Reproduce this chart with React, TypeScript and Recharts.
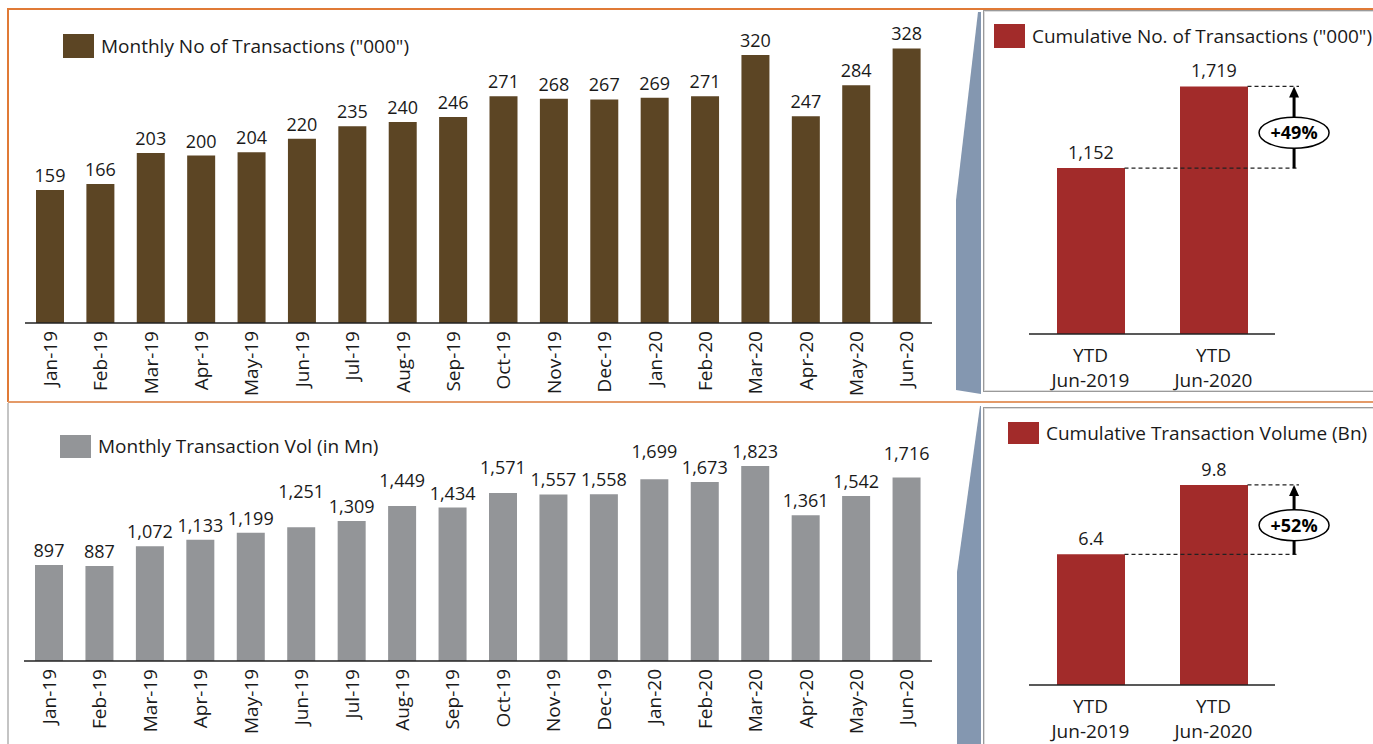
import React from 'react';
import { BarChart, Bar, XAxis, YAxis, LabelList, Legend, ReferenceLine, ComposedChart } from 'recharts';

// ---------- data ----------
const months = ['Jan-19','Feb-19','Mar-19','Apr-19','May-19','Jun-19','Jul-19','Aug-19','Sep-19','Oct-19','Nov-19','Dec-19','Jan-20','Feb-20','Mar-20','Apr-20','May-20','Jun-20'];
const monthlyCount = [159,166,203,200,204,220,235,240,246,271,268,267,269,271,320,247,284,328];
const monthlyVolume = [897,887,1072,1133,1199,1251,1309,1449,1434,1571,1557,1558,1699,1673,1823,1361,1542,1716];
const ytdCategories = ['YTD Jun-2019', 'YTD Jun-2020'];
const ytdCount = [1152, 1719];
const ytdVolume = [6.4, 9.8];
const growthLabels = ['+49%', '+52%'];

// label nudges (style only) for the volume chart, px
const volLabelLift = [0,0,0,0,0,21,0,11,0,11,0,0,13,0,0,0,0,9];

const countData = months.map((m, i) => ({ month: m, value: monthlyCount[i] }));
const volumeData = months.map((m, i) => ({ month: m, value: monthlyVolume[i] }));
const ytdCountData = ytdCategories.map((c, i) => ({ cat: c, value: ytdCount[i] }));
const ytdVolumeData = ytdCategories.map((c, i) => ({ cat: c, value: ytdVolume[i] }));

const TEXT = '#1a1a1a';
const BROWN = '#5C4524';
const GRAY = '#939598';
const RED = '#A22B2A';
const FONT = '"Open Sans", sans-serif';

const fmt = (v: number) => v.toLocaleString('en-US');

const MonthTick = (props: any) => {
  const { x, y, payload } = props;
  const ty = y + 8;
  return (
    <text x={x} y={ty} transform={`rotate(-90, ${x}, ${ty})`} textAnchor="end" dy="0.35em" fontSize={19} fill={TEXT}>
      {payload.value}
    </text>
  );
};

const YtdTick = (props: any) => {
  const { x, y, payload } = props;
  const parts = String(payload.value).split(' ');
  return (
    <text x={x} y={y} textAnchor="middle" fontSize={19} fill={TEXT}>
      <tspan x={x} y={y + 28}>{parts[0]}</tspan>
      <tspan x={x} y={y + 53}>{parts[1]}</tspan>
    </text>
  );
};

const makeLegend = (sqW: number, sqH: number, gap: number) => (props: any) => {
  const item = props.payload && props.payload[0];
  if (!item) return null;
  return (
    <div style={{ display: 'flex', alignItems: 'center', whiteSpace: 'nowrap', fontFamily: FONT }}>
      <span style={{ display: 'inline-block', width: sqW, height: sqH, background: item.color, marginRight: gap }} />
      <span style={{ fontSize: 19, color: TEXT, lineHeight: `${sqH}px` }}>{item.value}</span>
    </div>
  );
};

const makeValueLabel = (offset: number, lifts: number[] | null, format: (v: number) => string) => (props: any) => {
  const { x, y, width, value, index } = props;
  const lift = lifts ? lifts[index] || 0 : 0;
  return (
    <text x={x + width / 2} y={y - offset - lift} textAnchor="middle" fontSize={18} fill={TEXT}>
      {format(value)}
    </text>
  );
};

type MonthlyProps = {
  data: any[]; color: string; name: string; width: number; height: number;
  margin: any; axisHeight: number; domain: [number, number]; lifts: number[] | null;
  legendPos: { left: number; top: number }; sq: [number, number, number];
};

const MonthlyChart = ({ data, color, name, width, height, margin, axisHeight, domain, lifts, legendPos, sq }: MonthlyProps) => (
  <BarChart width={width} height={height} data={data} margin={margin}>
    <XAxis dataKey="month" interval={0} tickLine={false} tickSize={0} tickMargin={0} height={axisHeight}
      axisLine={{ stroke: '#222', strokeWidth: 1.5 }} tick={<MonthTick />} />
    <YAxis hide domain={domain} allowDataOverflow />
    <Legend layout="horizontal" verticalAlign="middle" align="center"
      wrapperStyle={{ left: legendPos.left, top: legendPos.top, width: 'auto', height: 'auto' }}
      content={makeLegend(sq[0], sq[1], sq[2])} />
    <Bar dataKey="value" name={name} fill={color} barSize={28} isAnimationActive={false}>
      <LabelList dataKey="value" content={makeValueLabel(8, lifts, fmt)} />
    </Bar>
  </BarChart>
);

// annotation geometry, in units of one category band
const ARROW_OFFSET = 0.655; // arrow x beyond the centre of the last category
const DASH_END = 0.695;     // dashed guide end beyond the centre of the last category

const DashShape = (fromIndex: number, band: number, barW: number) => (props: any) => {
  const { x1, y1 } = props;
  const start = x1 + band * (fromIndex + 0.5) + barW / 2;
  const end = x1 + band * (1.5 + DASH_END);
  return <line x1={start} y1={y1} x2={end} y2={y1} stroke="#222" strokeWidth={1.2} strokeDasharray="4 3" />;
};

const ArrowShape = (label: string, band: number) => (props: any) => {
  const { x1, y1, y2 } = props;
  const cx = x1 + band * ARROW_OFFSET;
  const yb = Math.max(y1, y2);
  const yt = Math.min(y1, y2);
  const cy = (yb + yt) / 2 + 5.5;
  const ry = 15.5;
  return (
    <g>
      <line x1={cx} y1={yb} x2={cx} y2={cy + ry} stroke="#000" strokeWidth={3} />
      <line x1={cx} y1={cy - ry} x2={cx} y2={yt + 9} stroke="#000" strokeWidth={3} />
      <polygon points={`${cx},${yt} ${cx - 5},${yt + 11} ${cx + 5},${yt + 11}`} fill="#000" />
      <ellipse cx={cx} cy={cy} rx={35} ry={ry} fill="#fff" stroke="#000" strokeWidth={1.5} />
      <text x={cx} y={cy} dy="0.36em" textAnchor="middle" fontSize={18} fontWeight={700} fill="#000">{label}</text>
    </g>
  );
};

type YtdProps = {
  data: any[]; name: string; height: number; margin: any; axisHeight: number;
  domain: [number, number]; growth: string; format: (v: number) => string;
  legendPos: { left: number; top: number }; sq: [number, number, number];
};

const YTD_WIDTH = 390;
const YTD_BAR = 68;

const YtdChart = ({ data, name, height, margin, axisHeight, domain, growth, format, legendPos, sq }: YtdProps) => {
  const plotW = YTD_WIDTH - margin.left - margin.right;
  const band = plotW / data.length;
  const lo = data[0].value;
  const hi = data[1].value;
  const lastCat = data[data.length - 1].cat;
  return (
    <ComposedChart width={YTD_WIDTH} height={height} data={data} margin={margin}>
      <XAxis dataKey="cat" interval={0} tickLine={false} tickSize={0} tickMargin={0} height={axisHeight}
        axisLine={{ stroke: '#222', strokeWidth: 1.5 }} tick={<YtdTick />} />
      <YAxis hide domain={domain} allowDataOverflow />
      <Legend layout="horizontal" verticalAlign="middle" align="center"
        wrapperStyle={{ left: legendPos.left, top: legendPos.top, width: 'auto', height: 'auto' }}
        content={makeLegend(sq[0], sq[1], sq[2])} />
      <Bar dataKey="value" name={name} fill={RED} barSize={YTD_BAR} isAnimationActive={false}>
        <LabelList dataKey="value" content={makeValueLabel(9, null, format)} />
      </Bar>
      <ReferenceLine y={lo} ifOverflow="visible" shape={DashShape(0, band, YTD_BAR)} />
      <ReferenceLine y={hi} ifOverflow="visible" shape={DashShape(1, band, YTD_BAR)} />
      <ReferenceLine ifOverflow="visible"
        segment={[{ x: lastCat, y: lo }, { x: lastCat, y: hi }]} shape={ArrowShape(growth, band)} />
    </ComposedChart>
  );
};

const Decor = () => (
  <svg width={1373} height={744} style={{ position: 'absolute', left: 0, top: 0 }}>
    {/* right panel boxes */}
    <rect x={983.5} y={10.5} width={420} height={381} fill="none" stroke="#9a9a9a" strokeWidth={1} />
    <rect x={984.5} y={11.5} width={420} height={379} fill="none" stroke="#dcdcdc" strokeWidth={1} />
    <rect x={983.5} y={407.5} width={420} height={420} fill="none" stroke="#9a9a9a" strokeWidth={1} />
    <rect x={984.5} y={408.5} width={420} height={420} fill="none" stroke="#dcdcdc" strokeWidth={1} />
    {/* connectors */}
    <polygon points="978,12 981,12 981,394 956,390 956,200" fill="#8497B0" />
    <polygon points="980,406 981,406 981,744 957,744 957,572" fill="#8497B0" />
    {/* left frame */}
    <line x1={8} y1={9} x2={1373} y2={9} stroke="#E07A36" strokeWidth={2} />
    <line x1={8} y1={8} x2={8} y2={402} stroke="#E07A36" strokeWidth={2} />
    <line x1={8} y1={402} x2={1373} y2={402} stroke="#E49A68" strokeWidth={2} />
    <line x1={8} y1={403} x2={8} y2={744} stroke="#c4c4c4" strokeWidth={2} />
  </svg>
);

export default function App() {
  return (
    <div style={{ position: 'fixed', left: 0, top: 0, width: 1373, height: 744, overflow: 'hidden', background: '#fff', fontFamily: FONT }}>
      <Decor />
      <div style={{ position: 'absolute', left: 0, top: 0 }}>
        <MonthlyChart data={countData} color={BROWN} name={'Monthly No of Transactions ("000")'}
          width={960} height={400} margin={{ top: 30, right: 28, left: 25, bottom: 0 }} axisHeight={77}
          domain={[0, 350]} lifts={null} legendPos={{ left: 63, top: 34 }} sq={[31, 24, 7]} />
      </div>
      <div style={{ position: 'absolute', left: 0, top: 402 }}>
        <MonthlyChart data={volumeData} color={GRAY} name="Monthly Transaction Vol (in Mn)"
          width={960} height={342} margin={{ top: 45, right: 28, left: 24, bottom: 0 }} axisHeight={83}
          domain={[0, 2000]} lifts={volLabelLift} legendPos={{ left: 60, top: 33 }} sq={[31, 23, 7]} />
      </div>
      <div style={{ position: 'absolute', left: 983, top: 10 }}>
        <YtdChart data={ytdCountData} name={'Cumulative No. of Transactions ("000")'} height={382}
          margin={{ top: 36, right: 98, left: 46, bottom: 0 }} axisHeight={58} domain={[0, 2000]}
          growth={growthLabels[0]} format={fmt} legendPos={{ left: 11, top: 14 }} sq={[31, 24, 7]} />
      </div>
      <div style={{ position: 'absolute', left: 983, top: 408 }}>
        <YtdChart data={ytdVolumeData} name="Cumulative Transaction Volume (Bn)" height={336}
          margin={{ top: 32, right: 98, left: 46, bottom: 0 }} axisHeight={59} domain={[0, 12]}
          growth={growthLabels[1]} format={(v: number) => v.toFixed(1)} legendPos={{ left: 25, top: 14 }} sq={[31, 22, 7]} />
      </div>
    </div>
  );
}
